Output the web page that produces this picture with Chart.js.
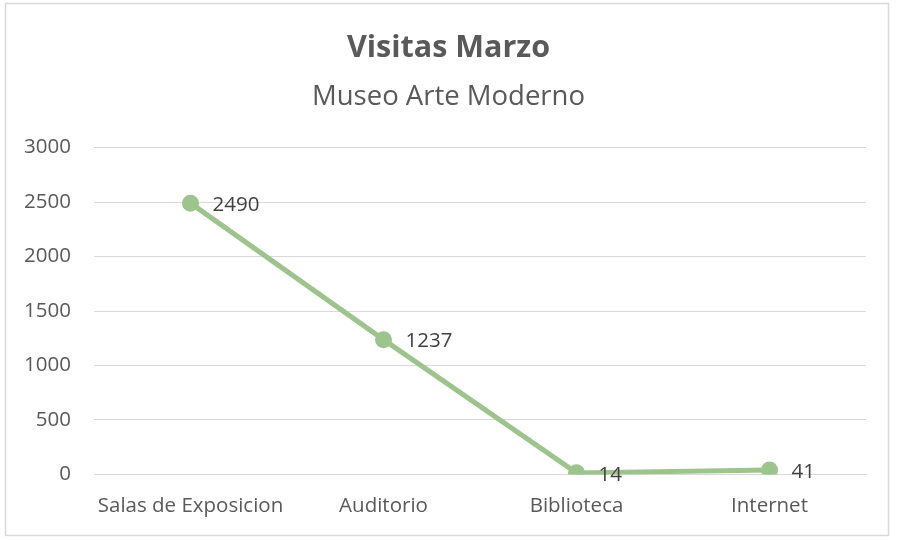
<!DOCTYPE html>
<html>
<head>
<meta charset="utf-8">
<script src="https://cdn.jsdelivr.net/npm/chart.js@4"></script>
<style>
html,body{margin:0;padding:0;background:#fff;}
#wrap{width:897px;height:540px;position:relative;}
</style>
</head>
<body>
<div id="wrap"><canvas id="c" width="897" height="540"></canvas></div>
<script>
const categories = ["Salas de Exposicion", "Auditorio", "Biblioteca", "Internet"];
const visitas = [2490, 1237, 14, 41];
const yTicks = [0, 500, 1000, 1500, 2000, 2500, 3000];
const titleText = "Visitas Marzo";
const subtitleText = "Museo Arte Moderno";

const FONT = "'Open Sans', Lato, sans-serif";
const lineColor = "#9dc48c";

const borderPlugin = {
  id: 'frame',
  beforeDraw(chart) {
    const ctx = chart.ctx;
    ctx.save();
    ctx.fillStyle = '#fff';
    ctx.fillRect(0, 0, chart.width, chart.height);
    ctx.strokeStyle = '#d9d9d9';
    ctx.lineWidth = 1.5;
    ctx.strokeRect(5.5, 3.5, 883, 532);
    ctx.restore();
  }
};

const labelPlugin = {
  id: 'dataLabels',
  afterDatasetsDraw(chart) {
    const ctx = chart.ctx;
    const meta = chart.getDatasetMeta(0);
    ctx.save();
    ctx.font = "20.5px " + FONT;
    ctx.fillStyle = '#404040';
    ctx.textAlign = 'left';
    ctx.textBaseline = 'middle';
    meta.data.forEach((pt, i) => {
      ctx.fillText(String(chart.data.datasets[0].data[i]), pt.x + 22, pt.y + 2);
    });
    ctx.restore();
  }
};

new Chart(document.getElementById('c'), {
  type: 'line',
  data: {
    labels: categories,
    datasets: [{
      data: visitas,
      borderColor: lineColor,
      backgroundColor: lineColor,
      borderWidth: 5,
      pointRadius: 6,
      pointHoverRadius: 6,
      pointBackgroundColor: lineColor,
      pointBorderColor: lineColor,
      tension: 0
    }]
  },
  options: {
    responsive: false,
    animation: false,
    devicePixelRatio: 1,
    layout: { padding: { left: 0, right: 0, top: 0, bottom: 3 } },
    plugins: {
      legend: { display: false },
      tooltip: { enabled: false },
      title: {
        display: true,
        text: titleText,
        color: '#595959',
        font: { family: FONT, size: 30.5, weight: 'bold', lineHeight: 1.2 },
        padding: { top: 30, bottom: 0 }
      },
      subtitle: {
        display: true,
        text: subtitleText,
        color: '#595959',
        font: { family: FONT, size: 27.5, weight: 'normal', lineHeight: 1.2 },
        padding: { top: 14, bottom: 34 }
      }
    },
    scales: {
      x: {
        type: 'category',
        offset: true,
        grid: { display: false, drawTicks: false },
        border: { display: true, color: '#d9d9d9', width: 1 },
        ticks: { color: '#595959', font: { family: FONT, size: 20.5 }, padding: 19, maxRotation: 0 }
      },
      y: {
        min: 0,
        max: 3000,
        afterBuildTicks(scale) { scale.ticks = yTicks.map(v => ({ value: v })); },
        afterFit(scale) { scale.width = 94; },
        grid: { color: '#d9d9d9', lineWidth: 1, drawTicks: false },
        border: { display: false },
        ticks: { color: '#595959', font: { family: FONT, size: 20.5 }, padding: 23, callback: v => String(v) }
      },
      yRight: {
        position: 'right',
        min: 0,
        max: 3000,
        afterFit(scale) { scale.width = 31; },
        grid: { display: false, drawTicks: false },
        border: { display: false },
        ticks: { display: false }
      }
    }
  },
  plugins: [borderPlugin, labelPlugin]
});
</script>
</body>
</html>
